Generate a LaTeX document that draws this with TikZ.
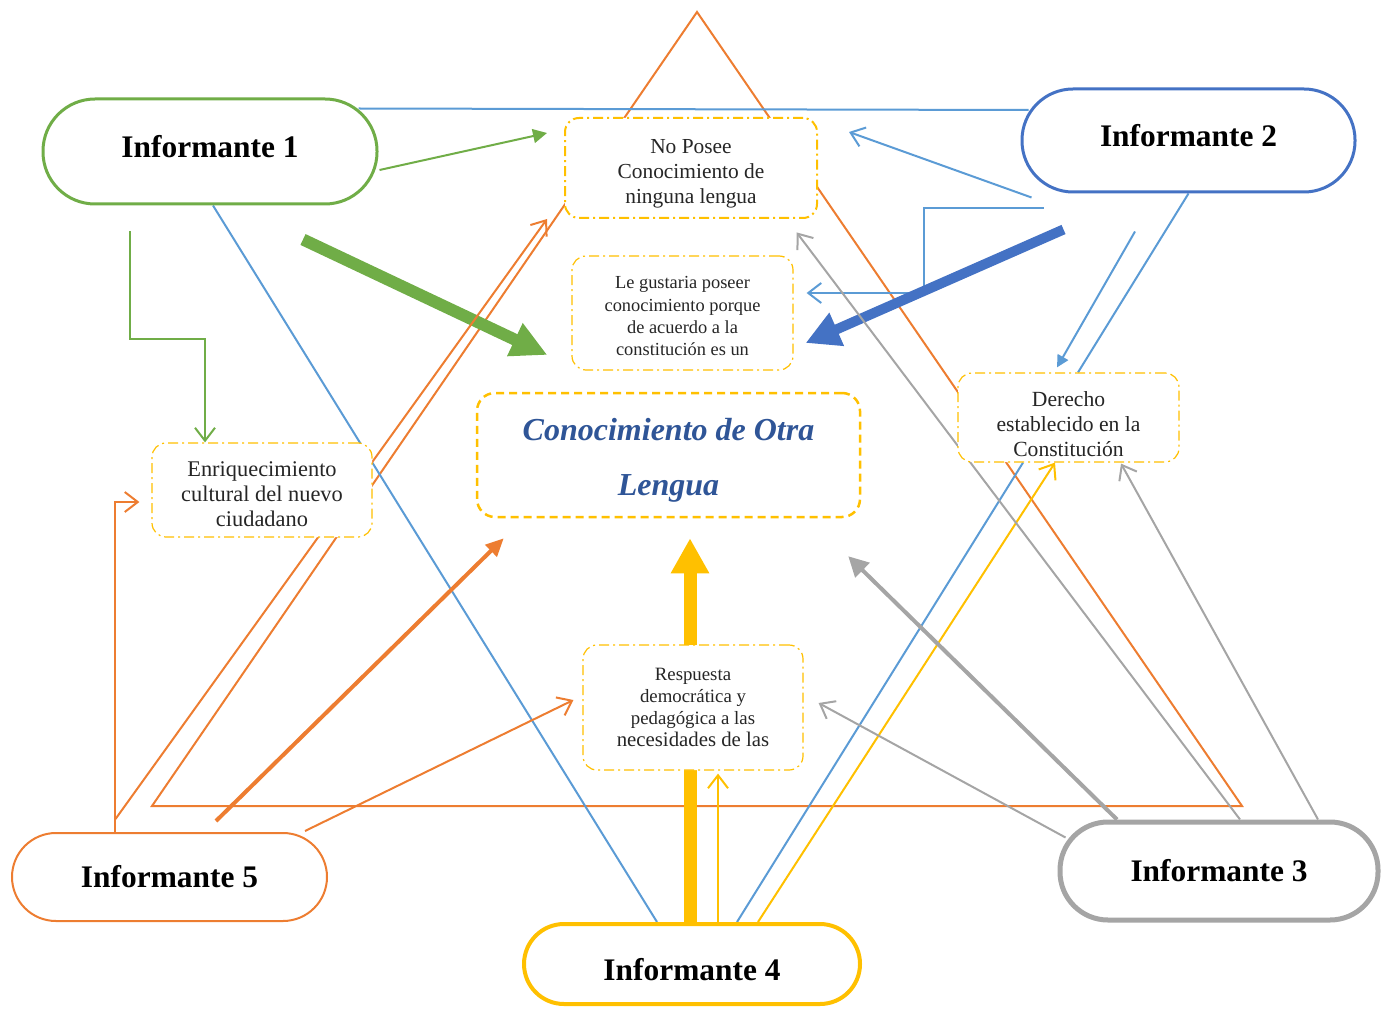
\documentclass[tikz,border=0pt]{standalone}
\usepackage{fontspec}
\setmainfont{Liberation Serif}
\usetikzlibrary{calc}
\usetikzlibrary{arrows.meta}
\definecolor{verde}{HTML}{70AD47}
\definecolor{azul}{HTML}{4472C4}
\definecolor{celeste}{HTML}{5B9BD5}
\definecolor{oro}{HTML}{FFC000}
\definecolor{naranja}{HTML}{ED7D31}
\definecolor{gris}{HTML}{A5A5A5}
\definecolor{tinta}{HTML}{2F5597}
\pgfdeclarelayer{lineas}
\pgfsetlayers{lineas,main}

\begin{document}
\begin{tikzpicture}[x=0.5pt,y=-0.5pt,
    informante/.style={draw,fill=white,inner sep=0pt,text=black,
      font=\fontsize{15.7}{19}\selectfont\bfseries},
    caja/.style={draw=oro,fill=white,rounded corners=7pt,inner sep=2pt,align=center,
      dash pattern=on 5pt off 2pt on 1pt off 2pt,line width=0.6pt,text=black!85},
    fina/.style={line width=1pt,-{Straight Barb[length=6.5pt,width=10pt]}},
  ]
  \useasboundingbox (0,0) rectangle (1384,1010);

  % informantes
  \node[informante,draw=verde,line width=1.5pt,minimum width=167pt,minimum height=52.5pt,
    rounded corners=26pt,text depth=5pt] (inf1) at (210,151.5) {Informante 1};
  \node[informante,draw=azul,line width=1.5pt,minimum width=166.5pt,minimum height=51.5pt,
    rounded corners=25.5pt,text depth=5pt] (inf2) at (1188.5,140.5) {Informante 2};
  \node[informante,draw=gris,line width=2.5pt,minimum width=159pt,minimum height=49pt,
    rounded corners=24pt] (inf3) at (1219,871) {Informante 3};
  \node[informante,draw=oro,line width=2pt,minimum width=168pt,minimum height=40pt,
    rounded corners=20pt,text height=16.9pt] (inf4) at (692,964) {Informante 4};
  \node[informante,draw=naranja,line width=1pt,minimum width=157.5pt,minimum height=44pt,
    rounded corners=22pt] (inf5) at (169.5,877) {Informante 5};

  % categorias
  \node[draw=oro,fill=white,dash pattern=on 4pt off 2.5pt,line width=1.25pt,rounded corners=9pt,
    minimum width=191.5pt,minimum height=62pt,align=center,text=tinta,
    text height=40pt,text depth=0pt,
    font=\fontsize{16}{27.5}\selectfont\bfseries\itshape] (lengua) at (668.5,455)
    {Conocimiento de Otra\\Lengua};
  \node[caja,line width=1pt,minimum width=126pt,minimum height=50pt,
    text height=36pt,text depth=0pt,
    font=\fontsize{10.7}{12.5}\selectfont] (noposee) at (691,168)
    {No Posee\\Conocimiento de\\ninguna lengua};
  \node[caja,minimum width=110.5pt,minimum height=57pt,
    text height=42pt,text depth=0pt,
    font=\fontsize{9.2}{11}\selectfont] (gusta) at (682.5,313)
    {Le gustaria poseer\\conocimiento porque\\de acuerdo a la\\constitución es un};
  \node[caja,minimum width=110.5pt,minimum height=44.5pt,
    text height=38.5pt,text depth=0pt,
    font=\fontsize{10.8}{12.5}\selectfont] (derecho) at (1068.5,417.5)
    {Derecho\\establecido en la\\Constitución};
  \node[caja,minimum width=110pt,minimum height=47pt,
    text height=36pt,text depth=0pt,
    font=\fontsize{11.2}{12.5}\selectfont] (enriq) at (262,490)
    {Enriquecimiento\\cultural del nuevo\\ciudadano};
  \node[caja,minimum width=110pt,minimum height=62.5pt,
    font=\fontsize{9.4}{11}\selectfont] (resp) at (693,707.5)
    {Respuesta\\democrática y\\pedagógica a las\\{\fontsize{10.4}{11}\selectfont necesidades de las}};

  \begin{pgfonlayer}{lineas}
    % triangulo
    \draw[naranja,line width=1pt] (697,12) -- (152,806) -- (1242,806) -- cycle;

    % Informante 1
    \draw[verde,line width=1pt,-{Triangle[length=7pt,width=7pt]}] ($(inf1.east)+(1,18.5)$) -- ($(noposee.west)+(-17,-35)$);
    \draw[verde,line width=6pt,-{Triangle[length=18pt,width=17pt]}] ($(inf1.south)+(93,34)$) -- ($(gusta.west)+(-24,42)$);
    \draw[verde,fina] ($(inf1.south)+(-80,26)$) -- ++(0,107) -| ($(enriq.north)+(-57,0)$);
    \draw[celeste,line width=1pt] ($(inf1.north east)+(-20,11)$) -- ($(inf2.west)+(8,-30.5)$);
    \draw[celeste,line width=1pt] ($(inf1.south)+(3,0)$) -- ($(inf4.north)+(-35,0)$);

    % Informante 2
    \draw[celeste,fina] ($(inf2.south west)+(11,4)$) -- ($(noposee.north east)+(31,15)$);
    \draw[celeste,fina] ($(inf2.south west)+(23,15)$) -- ++(-120,0) |- ($(gusta.east)+(13,-20)$);
    \draw[azul,line width=5pt,-{Triangle[length=17pt,width=17pt]}] ($(inf2.south west)+(43,36)$) -- ($(gusta.east)+(12,30)$);
    \draw[celeste,line width=1pt,-{Triangle[length=6pt,width=6pt]}] ($(inf2.south)+(-53.5,38)$) -- ($(derecho.north)+(-11.5,-5)$);
    \draw[celeste,line width=1pt] (inf2.south) -- ($(derecho.north)+(9.5,0)$);

    % Informante 4
    \draw[celeste,line width=1pt] ($(inf4.north)+(45,0)$) -- ($(derecho.south)+(-45.5,0)$);
    \draw[oro,line width=6.5pt,-{Triangle[length=17.5pt,width=18pt]}] ($(inf4.north)+(-2,0)$) -- ($(lengua.south)+(21.5,20)$);
    \draw[oro,fina] ($(inf4.north)+(26,0)$) -- ($(resp.south)+(25,3)$);
    \draw[oro,fina] ($(inf4.north)+(66,0)$) -- ($(derecho.south)+(-13.5,0)$);

    % Informante 3
    \draw[gris,fina] ($(inf3.north west)+(8,18)$) -- ($(resp.east)+(15,-4.5)$);
    \draw[gris,line width=2pt,-{Triangle[length=10pt,width=10pt]}] ($(inf3.north)+(-102,0)$) -- ($(lengua.south east)+(-13,38)$);
    \draw[gris,fina] ($(inf3.north)+(21,0)$) -- ($(gusta.north east)+(3,-23)$);
    \draw[gris,fina] ($(inf3.north)+(99,0)$) -- ($(derecho.south)+(52.5,1)$);

    % Informante 5
    \draw[naranja,fina] ($(inf5.north)+(-54.5,0)$) |- ($(enriq.west)+(-12,12)$);
    \draw[naranja,fina] ($(inf5.north)+(-54,-13)$) -- ($(noposee.south west)+(-17,0)$);
    \draw[naranja,line width=2pt,-{Triangle[length=9pt,width=8pt]}] ($(inf5.north)+(46.5,-11)$) -- ($(lengua.south west)+(28,20)$);
    \draw[naranja,fina] ($(inf5.north east)+(-23,-1)$) -- ($(resp.west)+(-9,-7.5)$);
  \end{pgfonlayer}
\end{tikzpicture}
\end{document}
